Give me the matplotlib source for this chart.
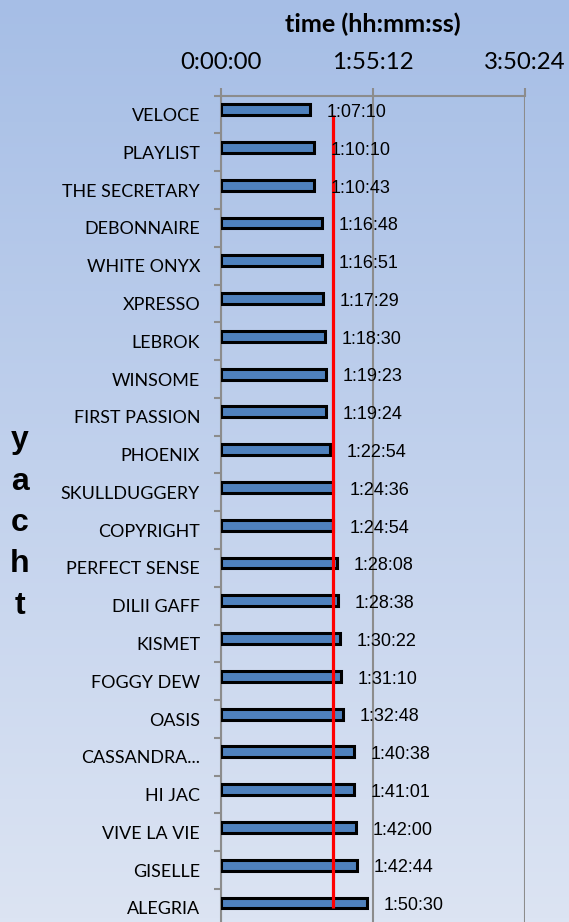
import numpy as np
import matplotlib
matplotlib.use("Agg")
import matplotlib.pyplot as plt
from matplotlib.colors import LinearSegmentedColormap
from matplotlib.ticker import FuncFormatter, FixedLocator

yachts = ["VELOCE", "PLAYLIST", "THE SECRETARY", "DEBONNAIRE", "WHITE ONYX",
          "XPRESSO", "LEBROK", "WINSOME", "FIRST PASSION", "PHOENIX",
          "SKULLDUGGERY", "COPYRIGHT", "PERFECT SENSE", "DILII GAFF", "KISMET",
          "FOGGY DEW", "OASIS", "CASSANDRA...", "HI JAC", "VIVE LA VIE",
          "GISELLE", "ALEGRIA"]
times = ["1:07:10", "1:10:10", "1:10:43", "1:16:48", "1:16:51", "1:17:29",
         "1:18:30", "1:19:23", "1:19:24", "1:22:54", "1:24:36", "1:24:54",
         "1:28:08", "1:28:38", "1:30:22", "1:31:10", "1:32:48", "1:40:38",
         "1:41:01", "1:42:00", "1:42:44", "1:50:30"]
x_ticks = [0, 6912, 13824]  # seconds: 0:00:00, 1:55:12, 3:50:24


def to_sec(s):
    h, m, sec = (int(v) for v in s.split(":"))
    return h * 3600 + m * 60 + sec


def fmt_hms(x, pos=None):
    x = int(round(x))
    return "%d:%02d:%02d" % (x // 3600, (x % 3600) // 60, x % 60)


secs = np.array([to_sec(t) for t in times])
median = np.median(secs)
ypos = np.arange(len(yachts))

fig = plt.figure(figsize=(5.69, 9.22), dpi=100)

# gradient background
bg = fig.add_axes([0, 0, 1, 1], zorder=-1)
cmap = LinearSegmentedColormap.from_list("bg", ["#a6bee6", "#dce4f3"])
bg.imshow(np.linspace(0, 1, 256).reshape(-1, 1), aspect="auto", cmap=cmap,
          extent=[0, 1, 0, 1])
bg.axis("off")

ax = fig.add_axes([0.3884, -0.0052, 0.5343, 0.9014])
ax.set_facecolor("none")

ax.barh(ypos - 0.13, secs, height=0.29, color="#4f81bd", edgecolor="black",
        linewidth=2.2, zorder=3)
ax.plot([median, median], [ypos[0], ypos[-1]], color="#ff0000", lw=2.3,
        zorder=4, solid_capstyle="butt")

for y, s, t in zip(ypos, secs, times):
    ax.annotate(t, (s, y - 0.13), xytext=(12, -2), textcoords="offset points",
                va="center", ha="left", fontsize=13,
                family="Liberation Sans", color="black", zorder=5)

ax.set_xlim(0, 13824)
ax.set_ylim(len(yachts) - 0.5, -0.5)

ax.xaxis.tick_top()
ax.xaxis.set_label_position("top")
ax.xaxis.set_major_locator(FixedLocator(x_ticks))
ax.xaxis.set_major_formatter(FuncFormatter(fmt_hms))
ax.tick_params(axis="x", which="major", length=6, width=1.5, color="#8c8c8c",
               pad=10, labelsize=17.3)
for lab in ax.get_xticklabels():
    lab.set_family("Lato")
ax.grid(axis="x", color="#8c8c8c", lw=1.5, zorder=1)
ax.set_axisbelow(True)

ax.set_yticks(ypos)
ax.set_yticklabels(yachts, family="Lato", fontsize=12.9)
ax.yaxis.set_minor_locator(FixedLocator(np.arange(-0.5, len(yachts), 1.0)))
ax.tick_params(axis="y", which="major", length=0, pad=15)
ax.tick_params(axis="y", which="minor", length=5, width=1.5, color="#8c8c8c")

for side in ["right", "bottom"]:
    ax.spines[side].set_visible(False)
for side in ["left", "top"]:
    ax.spines[side].set_color("#8c8c8c")
    ax.spines[side].set_linewidth(1.5)

fig.text(373 / 569, 1 - 24 / 922, "time (hh:mm:ss)", ha="center", va="center",
         fontsize=18.2, fontweight="bold", family="Lato")

# vertical "yacht" axis title, one letter per line
for k, ch in enumerate("yacht"):
    fig.text(20 / 569, 1 - (440 + 41.5 * k) / 922, ch, ha="center",
             va="center", fontsize=23, fontweight="bold",
             family="Liberation Sans")

fig.savefig("out.png", dpi=100)
